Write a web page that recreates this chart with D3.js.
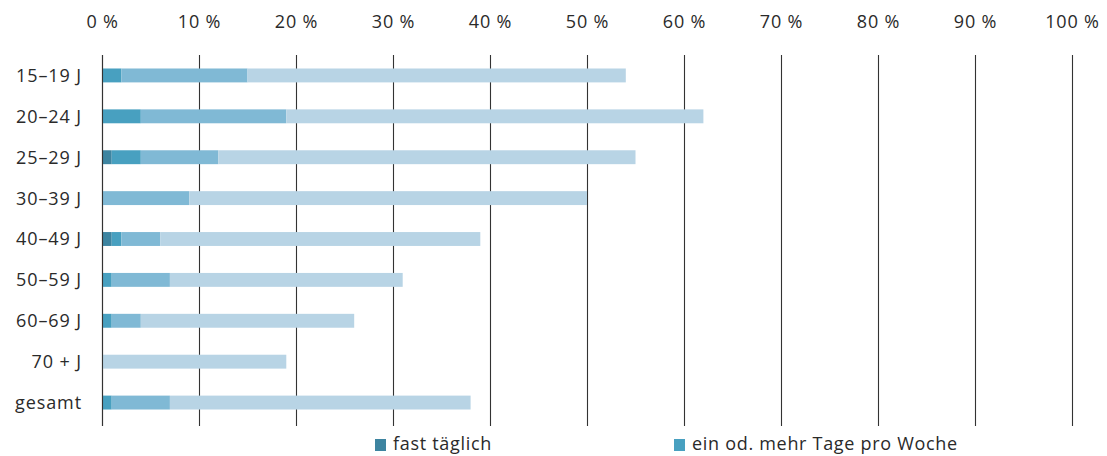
<!DOCTYPE html>
<html>
<head>
<meta charset="utf-8">
<script src="https://cdn.jsdelivr.net/npm/d3@7"></script>
<style>
  body { margin: 0; background: #fff; }
  svg text { font-family: "Open Sans", "Noto Sans", sans-serif; fill: #2a2a2a; }
</style>
</head>
<body>
<div id="chart"></div>
<script>
// age groups
var categories = ["15–19 J", "20–24 J", "25–29 J", "30–39 J", "40–49 J", "50–59 J", "60–69 J", "70 + J", "gesamt"];

// cumulative shares in %, from most frequent to least frequent
var fastTaeglich   = [0, 0, 1, 0, 1, 0, 0, 0, 0];
var proWoche       = [2, 4, 4, 0, 2, 1, 1, 0, 1];
var proMonat       = [15, 19, 12, 9, 6, 7, 4, 0, 7];
var seltener       = [54, 62, 55, 50, 39, 31, 26, 19, 38];

var seriesNames = ["fast täglich", "ein od. mehr Tage pro Woche", "ein od. mehr Tage pro Monat", "seltener"];
var colors = ["#3d84a0", "#48a0c0", "#80b9d5", "#b8d4e5"];
var tickValues = [0, 10, 20, 30, 40, 50, 60, 70, 80, 90, 100];

var width = 1107, height = 456;
var svg = d3.select("#chart").append("svg")
    .attr("width", width)
    .attr("height", height);

var x = d3.scaleLinear().domain([0, 100]).range([102, 1072]);
var y = d3.scaleBand().domain(categories).range([55, 423]).paddingInner(0.66).paddingOuter(0.33);

var series = [fastTaeglich, proWoche, proMonat, seltener];

// grid lines
svg.append("g")
    .selectAll("line")
    .data(tickValues)
    .enter()
    .append("line")
    .attr("x1", function (d) { return Math.round(x(d)) + 0.5; })
    .attr("x2", function (d) { return Math.round(x(d)) + 0.5; })
    .attr("y1", 55)
    .attr("y2", 426)
    .style("stroke", "#333")
    .style("stroke-width", 1.1);

// top axis labels
var xAxis = d3.axisTop(x)
    .tickValues(tickValues)
    .tickSize(0)
    .tickPadding(0)
    .tickFormat(function (d) { return d + " %"; });

var ax = svg.append("g")
    .attr("transform", "translate(0,28)")
    .call(xAxis);
ax.select(".domain").remove();
ax.selectAll("text")
    .style("font-size", "18px")
    .style("letter-spacing", "0.8px")
    .style("font-family", "'Open Sans', 'Noto Sans', sans-serif")
    .style("fill", "#2a2a2a");

// bars, drawn as segments between cumulative values
var bars = svg.append("g");
categories.forEach(function (cat, i) {
    var prev = 0;
    series.forEach(function (s, k) {
        var v = s[i];
        if (v > prev) {
            bars.append("rect")
                .attr("x", x(prev))
                .attr("y", y(cat))
                .attr("width", x(v) - x(prev))
                .attr("height", y.bandwidth())
                .style("fill", colors[k]);
            prev = v;
        }
    });
});

// redraw zero line on top
svg.append("line")
    .attr("x1", Math.round(x(0)) + 0.5)
    .attr("x2", Math.round(x(0)) + 0.5)
    .attr("y1", 55)
    .attr("y2", 426)
    .style("stroke", "#333")
    .style("stroke-width", 1.1);

// category labels
svg.append("g")
    .selectAll("text")
    .data(categories)
    .enter()
    .append("text")
    .attr("x", 82)
    .attr("y", function (d) { return y(d) + y.bandwidth() / 2; })
    .attr("dy", "0.36em")
    .attr("text-anchor", "end")
    .style("font-size", "18px")
    .style("letter-spacing", "0.9px")
    .text(function (d) { return d; });

// legend (only the first two entries are visible)
var legendX = [375, 674];
var legend = svg.append("g");
[0, 1].forEach(function (k) {
    legend.append("rect")
        .attr("x", legendX[k])
        .attr("y", 439)
        .attr("width", 11)
        .attr("height", 12)
        .style("fill", colors[k]);
    legend.append("text")
        .attr("x", legendX[k] + 18)
        .attr("y", 450)
        .style("font-size", "18px")
        .style("letter-spacing", "0.7px")
        .text(seriesNames[k]);
});
</script>
</body>
</html>
